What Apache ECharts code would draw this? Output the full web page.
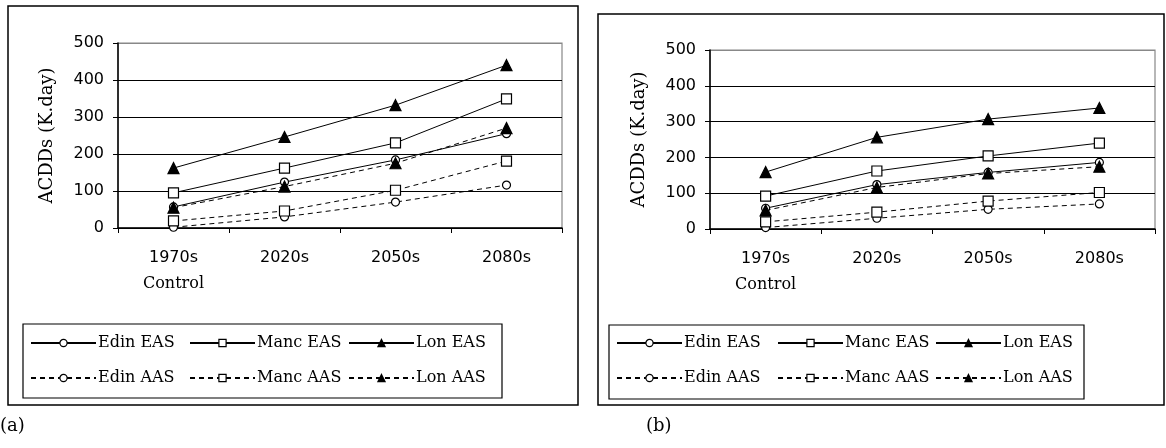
<!DOCTYPE html>
<html>
<head>
<meta charset="utf-8">
<script src="https://cdn.jsdelivr.net/npm/echarts@6/dist/echarts.min.js"></script>
<style>
  html, body { margin: 0; padding: 0; background: #fff; }
  #main { width: 1166px; height: 448px; }
</style>
</head>
<body>
<div id="main"></div>
<script>
var myChart = echarts.init(document.getElementById('main'));

// 横轴类别
var categories = ['1970s', '2020s', '2050s', '2080s'];
var seriesNames = ['Edin EAS', 'Manc EAS', 'Lon EAS', 'Edin AAS', 'Manc AAS', 'Lon AAS'];

// (a) 数据
var edinEasA = [57, 124, 184, 255];
var mancEasA = [95, 162, 230, 349];
var lonEasA = [162, 246, 332, 440];
var edinAasA = [2, 30, 70, 116];
var mancAasA = [19, 46, 102, 181];
var lonAasA = [55, 112, 175, 270];

// (b) 数据
var edinEasB = [58, 124, 158, 186];
var mancEasB = [92, 162, 204, 240];
var lonEasB = [159, 256, 307, 338];
var edinAasB = [4, 30, 55, 70];
var mancAasB = [20, 47, 78, 102];
var lonAasB = [52, 116, 155, 174];

var serifFont = 'DejaVu Serif';
var sansFont = 'DejaVu Sans';

function symbolOf (name) {
  if (name.indexOf('Edin') == 0) return { symbol: 'circle', size: 8, fill: '#fff' };
  if (name.indexOf('Manc') == 0) return { symbol: 'rect', size: 10, fill: '#fff' };
  return { symbol: 'triangle', size: 11, fill: '#000' };
}

function makeSeries (name, data, idx) {
  var s = symbolOf(name);
  var dashed = name.indexOf('AAS') > 0;
  return {
    name: name,
    type: 'line',
    xAxisIndex: idx,
    yAxisIndex: idx,
    data: data,
    symbol: s.symbol,
    symbolSize: s.size,
    showAllSymbol: true,
    animation: false,
    lineStyle: { color: '#000', width: 1, type: dashed ? [5, 4] : 'solid' },
    itemStyle: { color: s.fill, borderColor: '#000', borderWidth: 1.2 }
  };
}

function xAxisOf (idx) {
  return {
    type: 'category',
    gridIndex: idx,
    data: categories,
    boundaryGap: true,
    axisLine: { lineStyle: { color: '#000', width: 1.5 } },
    axisTick: { show: true, length: 5, lineStyle: { color: '#000' } },
    axisLabel: {
      margin: 17,
      color: '#000',
      formatter: function (v, i) {
        return i == 0 ? '{a|' + v + '}\n{b|Control}' : '{a|' + v + '}';
      },
      rich: {
        a: { fontFamily: sansFont, fontSize: 16, color: '#000', lineHeight: 26 },
        b: { fontFamily: serifFont, fontSize: 16, color: '#000', lineHeight: 26 }
      }
    }
  };
}

function yAxisOf (idx) {
  return {
    type: 'value',
    gridIndex: idx,
    min: 0,
    max: 500,
    interval: 100,
    name: 'ACDDs (K.day)',
    nameLocation: 'middle',
    nameRotate: 90,
    nameGap: 62,
    nameTextStyle: { fontFamily: serifFont, fontSize: 18, color: '#000' },
    axisLine: { show: true, lineStyle: { color: '#000', width: 1.5 } },
    axisTick: { show: true, length: 5, lineStyle: { color: '#000' } },
    axisLabel: { fontFamily: sansFont, fontSize: 16, color: '#000', margin: 14 },
    splitLine: {
      show: true,
      lineStyle: { color: ['#000', '#000', '#000', '#000', '#000', '#888'], width: 1 }
    }
  };
}

function legendOf (left, top, names) {
  return {
    orient: 'vertical',
    left: left,
    top: top,
    padding: 0,
    itemWidth: 65,
    itemHeight: 9,
    itemGap: 19,
    itemStyle: { borderWidth: 1.2 },
    textStyle: { fontFamily: serifFont, fontSize: 16, color: '#000', padding: [0, 0, 0, -3] },
    data: names
  };
}

var series = [];
[edinEasA, mancEasA, lonEasA, edinAasA, mancAasA, lonAasA].forEach(function (d, i) {
  series.push(makeSeries(seriesNames[i], d, 0));
});
[edinEasB, mancEasB, lonEasB, edinAasB, mancAasB, lonAasB].forEach(function (d, i) {
  series.push(makeSeries(seriesNames[i], d, 1));
});

var option = {
  animation: false,
  backgroundColor: '#fff',
  grid: [
    { left: 118, top: 43, right: 604, bottom: 220, show: true, borderColor: '#888', borderWidth: 1.2 },
    { left: 710, top: 50, right: 11, bottom: 219, show: true, borderColor: '#888', borderWidth: 1.2 }
  ],
  xAxis: [xAxisOf(0), xAxisOf(1)],
  yAxis: [yAxisOf(0), yAxisOf(1)],
  legend: [
    legendOf(30, 335, ['Edin EAS', 'Edin AAS']),
    legendOf(189, 335, ['Manc EAS', 'Manc AAS']),
    legendOf(348, 335, ['Lon EAS', 'Lon AAS']),
    legendOf(616, 335, ['Edin EAS', 'Edin AAS']),
    legendOf(777, 335, ['Manc EAS', 'Manc AAS']),
    legendOf(935, 335, ['Lon EAS', 'Lon AAS'])
  ],
  graphic: [
    // 外框
    { type: 'rect', shape: { x: 8, y: 6, width: 570, height: 399 }, style: { fill: null, stroke: '#000', lineWidth: 1.5 }, z: -1 },
    { type: 'rect', shape: { x: 598, y: 14, width: 566, height: 391 }, style: { fill: null, stroke: '#000', lineWidth: 1.5 }, z: -1 },
    // 图例框
    { type: 'rect', shape: { x: 23, y: 324, width: 479, height: 74 }, style: { fill: null, stroke: '#000', lineWidth: 1.2 }, z: -1 },
    { type: 'rect', shape: { x: 609, y: 325, width: 475, height: 74 }, style: { fill: null, stroke: '#000', lineWidth: 1.2 }, z: -1 },
    { type: 'text', left: 0, top: 417, style: { text: '(a)', font: '18px "DejaVu Serif"', fill: '#000' } },
    { type: 'text', left: 646, top: 417, style: { text: '(b)', font: '18px "DejaVu Serif"', fill: '#000' } }
  ],
  series: series
};

myChart.setOption(option, true);
</script>
</body>
</html>
